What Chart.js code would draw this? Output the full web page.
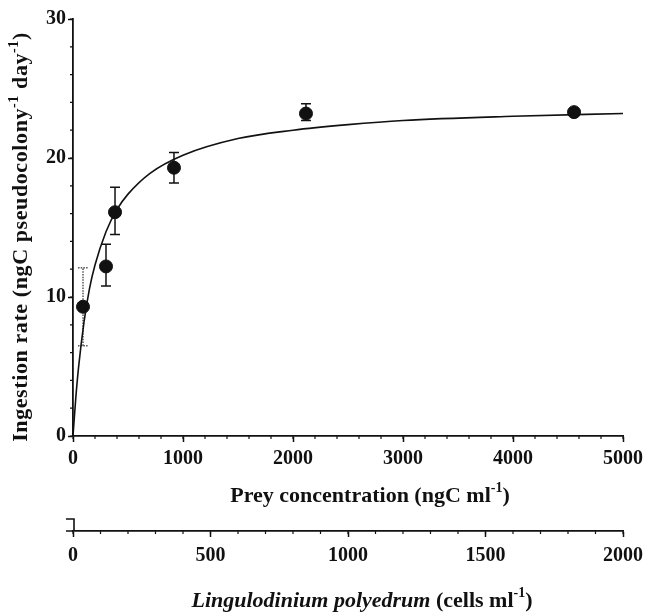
<!DOCTYPE html>
<html>
<head>
<meta charset="utf-8">
<script src="https://cdn.jsdelivr.net/npm/chart.js@4.4.1/dist/chart.umd.min.js"></script>
<style>
  html, body { margin: 0; padding: 0; background: #fff; }
  #wrap { width: 645px; height: 613px; }
</style>
</head>
<body>
<div id="wrap"><canvas id="c"></canvas></div>
<script>
// measured points (prey ngC/ml vs ingestion ngC/pseudocolony/day)
const preyX   = [91, 300, 382, 918, 2118, 4555];
const ingest  = [9.3, 12.2, 16.1, 19.3, 23.2, 23.3];
const errLow  = [6.5, 10.8, 14.5, 18.2, 22.7, 23.3];
const errHigh = [12.1, 13.8, 17.9, 20.4, 23.9, 23.3];
// fitted curve
const fitX = [0, 25, 50, 100, 150, 200, 300, 400, 500, 700, 1000, 1500, 2000, 2500, 3000, 4000, 5000];
const fitY = [0, 2.7, 4.9, 8.2, 10.6, 12.3, 14.7, 16.3, 17.4, 18.9, 20.2, 21.4, 22.0, 22.4, 22.7, 23.0, 23.2];
// axis ranges
const preyRange = [0, 5000], rateRange = [0, 30], cellRange = [0, 2000];

const INK = "#111";
const SERIF = "'Liberation Serif', 'Times New Roman', serif";
const tickFont = { family: SERIF, size: 20, weight: "bold" };

function minorTicks(chart, id, step, len) {
  const s = chart.scales[id], ctx = chart.ctx;
  ctx.save();
  ctx.strokeStyle = INK; ctx.lineWidth = 1.2;
  ctx.beginPath();
  for (let v = s.min; v <= s.max + 1e-6; v += step) {
    const p = s.getPixelForValue(v);
    if (s.isHorizontal()) { ctx.moveTo(p, s.top); ctx.lineTo(p, s.top + len); }
    else { ctx.moveTo(s.right, p); ctx.lineTo(s.right - len, p); }
  }
  ctx.stroke();
  ctx.restore();
}

// text made of parts: {t, sup, it}
function richText(ctx, parts, size, cx, cy, spacing) {
  const fontOf = p => (p.it ? "italic " : "") + "bold " + (p.sup ? Math.round(size * 0.62) : size) + "px " + SERIF;
  ctx.letterSpacing = (spacing || 0) + "px";
  let total = 0;
  parts.forEach(p => { ctx.font = fontOf(p); p.w = ctx.measureText(p.t).width; total += p.w; });
  let x = cx - total / 2;
  ctx.textBaseline = "alphabetic"; ctx.textAlign = "left";
  parts.forEach(p => {
    ctx.font = fontOf(p);
    ctx.fillText(p.t, x, cy + size * 0.35 - (p.sup ? size * 0.42 : 0));
    x += p.w;
  });
  ctx.letterSpacing = "0px";
}

const decor = {
  id: "decor",
  beforeDatasetsDraw(chart) {
    const { ctx, scales: { x, y } } = chart;
    ctx.save();
    ctx.lineWidth = 1.5;
    preyX.forEach((v, i) => {
      if (errHigh[i] - errLow[i] < 0.05) return;
      const px = x.getPixelForValue(v), lo = y.getPixelForValue(errLow[i]), hi = y.getPixelForValue(errHigh[i]);
      ctx.setLineDash(i === 0 ? [1.5, 1.2] : []);
      ctx.strokeStyle = i === 0 ? "#555" : INK;
      ctx.beginPath();
      ctx.moveTo(px, lo); ctx.lineTo(px, hi);
      ctx.moveTo(px - 5, lo); ctx.lineTo(px + 5, lo);
      ctx.moveTo(px - 5, hi); ctx.lineTo(px + 5, hi);
      ctx.stroke();
    });
    ctx.restore();
  },
  afterDraw(chart) {
    const { ctx, scales } = chart;
    minorTicks(chart, "x", 200, 3);
    minorTicks(chart, "y", 2, 3);
    minorTicks(chart, "x2", 100, 3);
    // little bracket at the left end of the cell axis
    const x2 = scales.x2, x0 = x2.getPixelForValue(0);
    ctx.save();
    ctx.strokeStyle = INK; ctx.lineWidth = 1.6;
    ctx.beginPath();
    ctx.moveTo(x0 - 7, x2.top - 12); ctx.lineTo(x0 + 1, x2.top - 12); ctx.lineTo(x0 + 1, x2.top);
    ctx.moveTo(x0 - 7, x2.top); ctx.lineTo(x0, x2.top);
    ctx.stroke();
    ctx.fillStyle = INK;
    richText(ctx, [{ t: "Prey concentration (ngC ml" }, { t: "-1", sup: true }, { t: ")" }], 22, 370, 494);
    richText(ctx, [{ t: "Lingulodinium polyedrum", it: true }, { t: " (cells ml" }, { t: "-1", sup: true }, { t: ")" }], 22, 362, 599);
    ctx.translate(19.5, 237);
    ctx.rotate(-Math.PI / 2);
    richText(ctx, [{ t: "Ingestion rate (ngC pseudocolony" }, { t: "-1", sup: true }, { t: " day" }, { t: "-1", sup: true }, { t: ")" }], 22, 0, 0, 0.6);
    ctx.restore();
  }
};

const axisGrid = { drawOnChartArea: false, color: INK, tickLength: 6, tickWidth: 1.5 };
const axisBorder = { color: INK, width: 1.8 };
const plain = v => String(v);
const fixX = h => s => { s.height = h; s.paddingLeft = 0; s.paddingRight = 0; };

new Chart(document.getElementById("c"), {
  type: "scatter",
  data: {
    datasets: [
      { type: "line", data: fitX.map((v, i) => ({ x: v, y: fitY[i] })), borderColor: INK, borderWidth: 1.6,
        pointRadius: 0, cubicInterpolationMode: "monotone", fill: false },
      { data: preyX.map((v, i) => ({ x: v, y: ingest[i] })), backgroundColor: INK, borderColor: INK,
        pointRadius: 6.5, pointHoverRadius: 6.5 }
    ]
  },
  options: {
    responsive: true, maintainAspectRatio: false, animation: false,
    layout: { padding: { top: 19, right: 22, left: 0, bottom: 0 } },
    plugins: { legend: { display: false }, tooltip: { enabled: false } },
    scales: {
      x: { type: "linear", min: preyRange[0], max: preyRange[1], weight: 0,
           ticks: { stepSize: 1000, color: INK, font: tickFont, padding: 5, maxRotation: 0, callback: plain },
           grid: axisGrid, border: axisBorder, afterFit: fixX(95) },
      x2: { type: "linear", axis: "x", position: "bottom", min: cellRange[0], max: cellRange[1], weight: 1,
            ticks: { stepSize: 500, color: INK, font: tickFont, padding: 7, maxRotation: 0, callback: plain },
            grid: axisGrid, border: axisBorder, afterFit: fixX(82) },
      y: { min: rateRange[0], max: rateRange[1],
           ticks: { stepSize: 10, color: INK, font: tickFont, padding: 2, callback: plain },
           grid: { ...axisGrid, tickLength: 5 }, border: axisBorder, afterFit: s => { s.width = 73; } }
    }
  },
  plugins: [decor]
});
</script>
</body>
</html>
